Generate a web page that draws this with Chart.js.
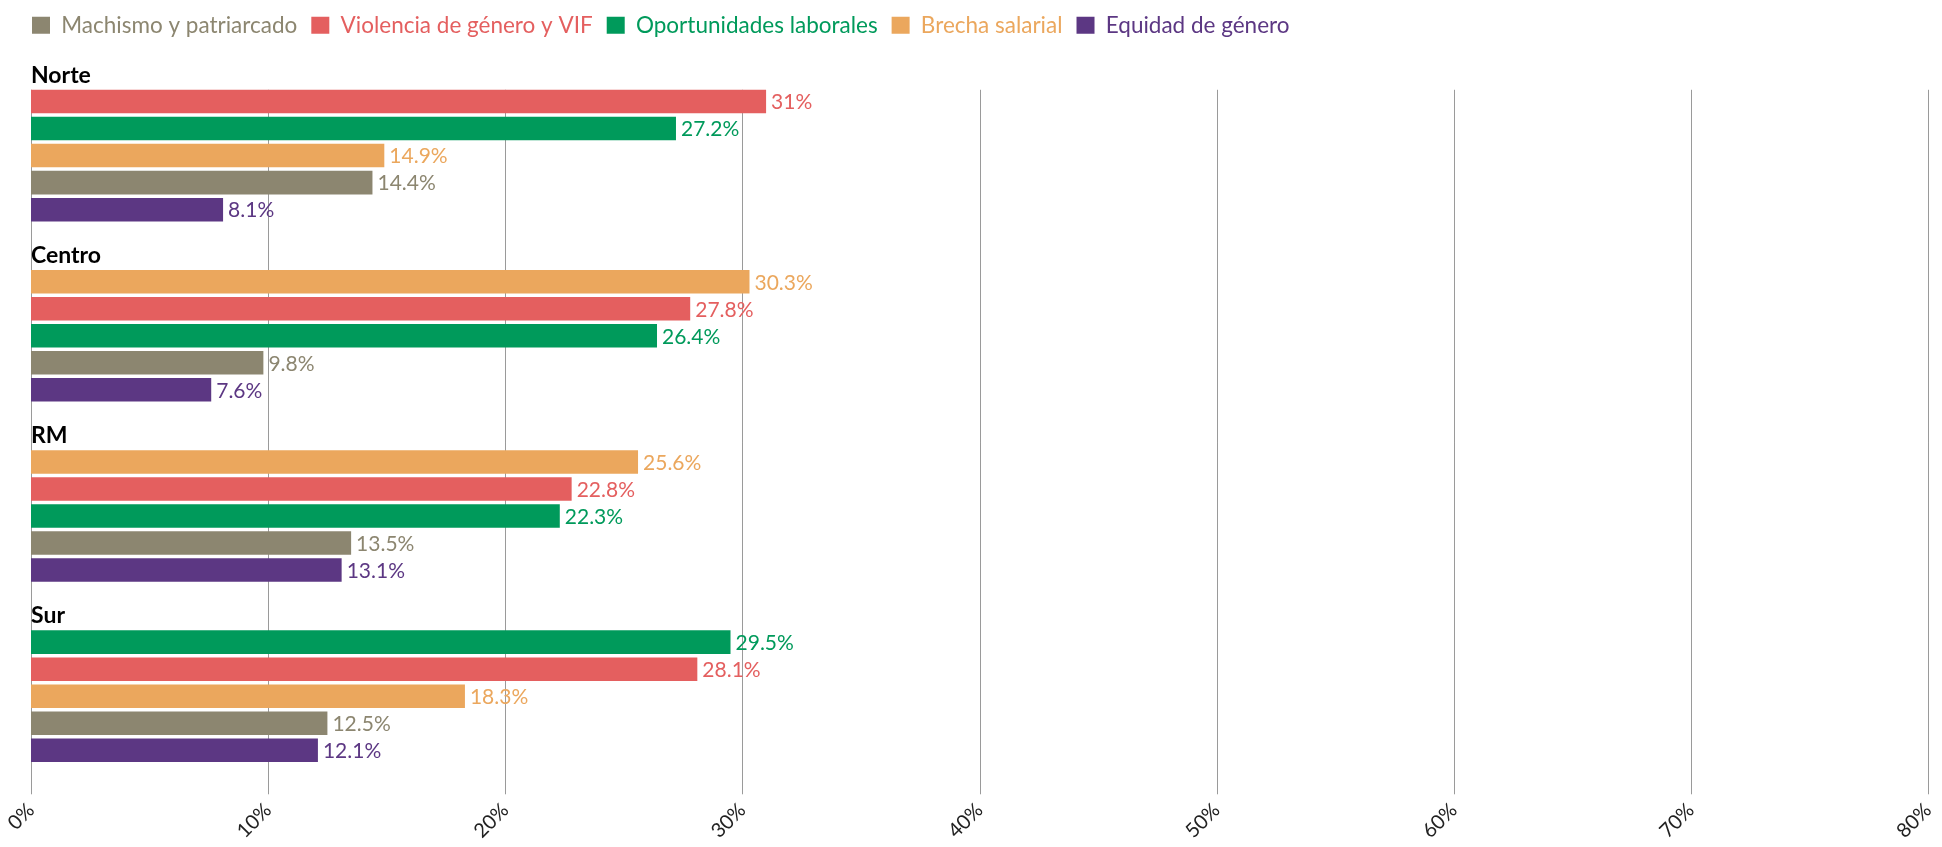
<!DOCTYPE html>
<html>
<head>
<meta charset="utf-8">
<script src="https://cdn.jsdelivr.net/npm/chart.js@4"></script>
<style>
  body { margin: 0; background: #fff; }
  #wrap { width: 1942px; height: 847px; position: relative; }
</style>
</head>
<body>
<div id="wrap"><canvas id="chart"></canvas></div>
<script>
const regions = ["Norte", "Centro", "RM", "Sur"];
const seriesNames = ["Machismo y patriarcado", "Violencia de género y VIF", "Oportunidades laborales", "Brecha salarial", "Equidad de género"];
const seriesColors = ["#8c8670", "#e45f5f", "#009a5b", "#eba75d", "#5c3783"];

// values per series, one per region (Norte, Centro, RM, Sur)
const machismo = [14.4, 9.8, 13.5, 12.5];
const violencia = [31, 27.8, 22.8, 28.1];
const oportunidades = [27.2, 26.4, 22.3, 29.5];
const brecha = [14.9, 30.3, 25.6, 18.3];
const equidad = [8.1, 7.6, 13.1, 12.1];

const xTicks = [0, 10, 20, 30, 40, 50, 60, 70, 80];

const allSeries = [machismo, violencia, oportunidades, brecha, equidad];

// bars are sorted inside every region, so build one dataset per rank
const ranked = regions.map((r, ri) => {
    const items = allSeries.map((s, si) => ({ value: s[ri], series: si }));
    items.sort((a, b) => b.value - a.value);
    return items;
});

const datasets = [];
for (let rank = 0; rank < 5; rank++) {
    datasets.push({
        label: "rank " + (rank + 1),
        data: ranked.map(items => items[rank].value),
        backgroundColor: ranked.map(items => seriesColors[items[rank].series]),
        categoryPercentage: 0.75,
        barPercentage: 0.87
    });
}

// make room under the legend for the first region title
const legendSpace = {
    id: "legendSpace",
    beforeInit(chart) {
        const fit = chart.legend.fit;
        chart.legend.fit = function () {
            fit.bind(chart.legend)();
            this.height += 19;
        };
    }
};

// vertical grid lines from the first bar down past the axis
const gridLines = {
    id: "gridLines",
    beforeDatasetsDraw(chart) {
        const ctx = chart.ctx;
        const x = chart.scales.x;
        const first = chart.getDatasetMeta(0).data[0];
        const top = first.y - first.height / 2;
        const bottom = chart.chartArea.bottom + 8;
        ctx.save();
        ctx.strokeStyle = "#9a9a9a";
        ctx.lineWidth = 1;
        x.ticks.forEach(t => {
            const px = Math.round(x.getPixelForValue(t.value)) + 0.5;
            ctx.beginPath();
            ctx.moveTo(px, top);
            ctx.lineTo(px, bottom);
            ctx.stroke();
        });
        ctx.restore();
    }
};

// region titles and value labels
const labelsPlugin = {
    id: "labelsPlugin",
    afterDatasetsDraw(chart) {
        const ctx = chart.ctx;
        ctx.save();
        ctx.textBaseline = "middle";
        ctx.font = "21px Lato";
        chart.data.datasets.forEach((ds, di) => {
            const meta = chart.getDatasetMeta(di);
            meta.data.forEach((bar, i) => {
                ctx.fillStyle = ds.backgroundColor[i];
                ctx.fillText(ds.data[i] + "%", bar.x + 5, bar.y + 1);
            });
        });
        const meta0 = chart.getDatasetMeta(0);
        ctx.font = "bold 23px Lato";
        ctx.fillStyle = "#000";
        ctx.textBaseline = "alphabetic";
        regions.forEach((r, i) => {
            const bar = meta0.data[i];
            ctx.fillText(r, chart.chartArea.left, bar.y - bar.height / 2 - 7);
        });
        ctx.restore();
    }
};

new Chart(document.getElementById("chart"), {
    type: "bar",
    data: { labels: regions, datasets: datasets },
    options: {
        indexAxis: "y",
        responsive: true,
        maintainAspectRatio: false,
        animation: false,
        layout: { padding: { left: 18, right: 0, top: 0, bottom: 0 } },
        plugins: {
            tooltip: { enabled: false },
            legend: {
                position: "top",
                align: "start",
                onClick: null,
                labels: {
                    boxWidth: 18,
                    boxHeight: 17,
                    padding: 14,
                    font: { family: "Lato", size: 22.5 },
                    generateLabels: () => seriesNames.map((n, i) => ({
                        text: n,
                        fillStyle: seriesColors[i],
                        strokeStyle: seriesColors[i],
                        fontColor: seriesColors[i],
                        lineWidth: 0,
                        hidden: false,
                        datasetIndex: i
                    }))
                }
            }
        },
        scales: {
            x: {
                min: 0,
                max: 80,
                afterBuildTicks: axis => { axis.ticks = xTicks.map(v => ({ value: v })); },
                afterFit: axis => { axis.paddingLeft = 31; axis.paddingRight = 14; },
                border: { display: false },
                grid: { display: false, drawTicks: true, tickLength: 8 },
                ticks: {
                    minRotation: 45,
                    maxRotation: 45,
                    padding: 4,
                    color: "#222",
                    font: { family: "Lato", size: 20 },
                    callback: v => v + "%"
                }
            },
            y: {
                display: false,
                grid: { display: false }
            }
        }
    },
    plugins: [legendSpace, gridLines, labelsPlugin]
});
</script>
</body>
</html>
